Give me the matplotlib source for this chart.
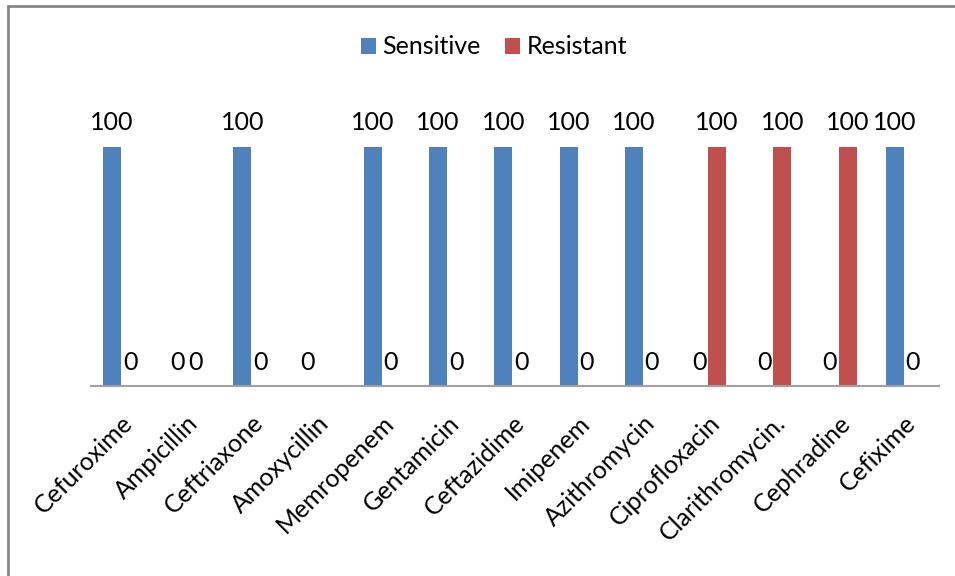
import numpy as np
import matplotlib
matplotlib.use("Agg")
import matplotlib.pyplot as plt
from matplotlib.patches import Rectangle

plt.rcParams['font.family'] = ['Lato', 'DejaVu Sans']

drugs = ['Cefuroxime', 'Ampicillin', 'Ceftriaxone', 'Amoxycillin', 'Memropenem',
         'Gentamicin', 'Ceftazidime', 'Imipenem', 'Azithromycin', 'Ciprofloxacin',
         'Clarithromycin.', 'Cephradine', 'Cefixime']
sensitive = [100, 0, 100, 0, 100, 100, 100, 100, 100, 0, 0, 0, 100]
resistant = [0, 0, 0, np.nan, 0, 0, 0, 0, 0, 100, 100, 100, 0]

blue = '#4F81BD'
red = '#C0504D'
fs = 18

fig = plt.figure(figsize=(9.55, 5.76), dpi=100)
ax = fig.add_axes([91 / 955, 190 / 576, 848 / 955, 287 / 576])

x = np.arange(len(drugs))
w = 0.276
b1 = ax.bar(x - w / 2, sensitive, w, color=blue, label='Sensitive')
b2 = ax.bar(x + w / 2, resistant, w, color=red, label='Resistant')

for bars, vals in ((b1, sensitive), (b2, resistant)):
    for rect, v in zip(bars, vals):
        if np.isnan(v):
            continue
        ax.annotate(f'{v:g}', (rect.get_x() + rect.get_width() / 2, v),
                    xytext=(0, 24), textcoords='offset pixels',
                    ha='center', va='center', fontsize=fs)

ax.set_xlim(-0.46, 12.54)
ax.set_ylim(0, 120)
ax.set_yticks([])
for s in ('left', 'right', 'top'):
    ax.spines[s].set_visible(False)
ax.spines['bottom'].set_color('#A0A0A0')
ax.spines['bottom'].set_linewidth(1.5)
ax.set_xticks(x)
ax.set_xticklabels(drugs, rotation=45, ha='right', rotation_mode='anchor', fontsize=fs)
ax.tick_params(axis='x', length=0, pad=18)

fig.legend(loc='center', bbox_to_anchor=(494 / 955, 1 - 47 / 576), ncol=2, frameon=False,
           fontsize=fs, handlelength=0.6, handleheight=0.6, handletextpad=0.25,
           columnspacing=1.0)

# chart-area border
fig.patches.append(Rectangle((8 / 955, -0.1), 1.2, 1 - 6 / 576 + 0.1,
                             transform=fig.transFigure, fill=False,
                             edgecolor='#878787', linewidth=2))

fig.savefig('out.png', dpi=100)
